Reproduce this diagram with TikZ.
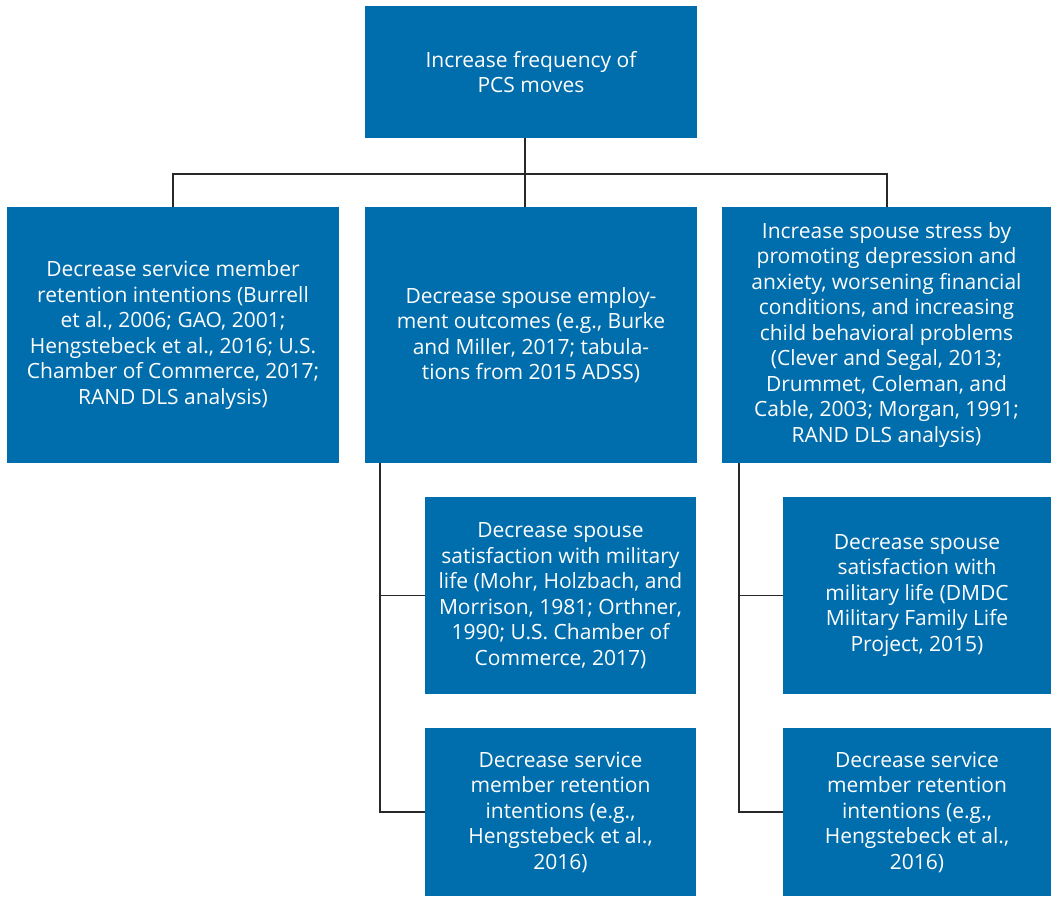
\documentclass[tikz,border=0pt]{standalone}
\usepackage{fontspec}
\setmainfont{Open Sans}
\definecolor{boxblue}{RGB}{0,109,172}
\definecolor{linegray}{RGB}{40,40,40}
\begin{document}
\begin{tikzpicture}[x=1pt,y=-1pt,
  box/.style={fill=boxblue,draw=none,text=white,align=center,inner sep=0pt,
    font=\fontsize{21}{25.5}\selectfont},
  conn/.style={draw=linegray,line width=1.3pt}]
\useasboundingbox (0,0) rectangle (1051,897);
\newcommand{\bx}[6]{\node[box,minimum width={#4-#2},minimum height={#5-#3}] (#1) at ({(#2+#4)/2},{(#3+#5)/2}) {#6};}
\bx{top}{365}{6}{697}{138}{Increase frequency of\\PCS moves}
\bx{b1}{7}{207}{339}{463}{Decrease service member\\retention intentions (Burrell\\et al., 2006; GAO, 2001;\\Hengstebeck et al., 2016; U.S.\\Chamber of Commerce, 2017;\\RAND DLS analysis)}
\bx{b2}{365}{207}{697}{463}{Decrease spouse employ-\\ment outcomes (e.g., Burke\\and Miller, 2017; tabula-\\tions from 2015 ADSS)}
\bx{b3}{722}{207}{1051}{463}{Increase spouse stress by\\promoting depression and\\anxiety, worsening financial\\conditions, and increasing\\child behavioral problems\\(Clever and Segal, 2013;\\Drummet, Coleman, and\\Cable, 2003; Morgan, 1991;\\RAND DLS analysis)}
\bx{m1}{425}{497}{696}{694}{Decrease spouse\\satisfaction with military\\life (Mohr, Holzbach, and\\Morrison, 1981; Orthner,\\1990; U.S. Chamber of\\Commerce, 2017)}
\bx{m2}{425}{728}{696}{896}{Decrease service\\member retention\\intentions (e.g.,\\Hengstebeck et al.,\\2016)}
\bx{r1}{783}{497}{1051}{694}{Decrease spouse\\satisfaction with\\military life (DMDC\\Military Family Life\\Project, 2015)}
\bx{r2}{783}{728}{1051}{896}{Decrease service\\member retention\\intentions (e.g.,\\Hengstebeck et al.,\\2016)}
\coordinate (j) at (525,174);
\draw[conn] (top.south -| j) -- (j);
\draw[conn] (b1.north -| 173,0) |- (j) -| (b3.north -| 887,0);
\draw[conn] (j) -- (b2.north -| j);
\draw[conn] (b2.south -| 380,0) |- (m2.west);
\draw[conn] (m1.west) -- (m1.west -| 380,0);
\draw[conn] (b3.south -| 739,0) |- (r2.west);
\draw[conn] (r1.west) -- (r1.west -| 739,0);
\end{tikzpicture}
\end{document}
